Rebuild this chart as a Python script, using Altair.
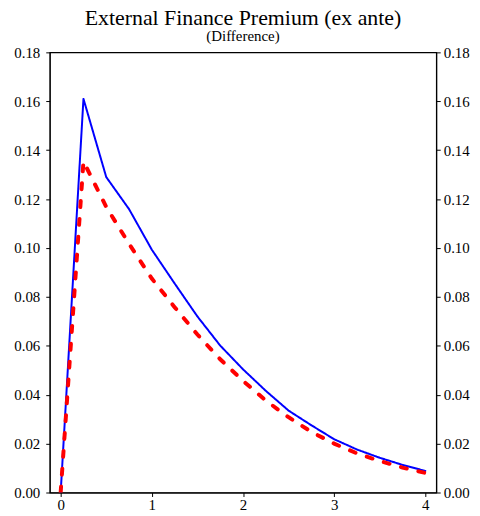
import altair as alt
import pandas as pd

quarters = [0, 0.25, 0.5, 0.75, 1.0, 1.25, 1.5, 1.75, 2.0, 2.25, 2.5, 2.75, 3.0, 3.25, 3.5, 3.75, 4.0]
blue_vals = [0.0, 0.161, 0.129, 0.1159, 0.0993, 0.0855, 0.072, 0.0601, 0.0504, 0.0416, 0.0335, 0.0275, 0.0218, 0.0176, 0.0142, 0.0113, 0.0088]
red_vals = [0.0, 0.1354, 0.1168, 0.1017, 0.0875, 0.0758, 0.0646, 0.0545, 0.0457, 0.0376, 0.0308, 0.0248, 0.0200, 0.0160, 0.0129, 0.0102, 0.0080]
series_names = ["A", "B"]

rows = []
for name, vals in zip(series_names, [blue_vals, red_vals]):
    for q, v in zip(quarters, vals):
        rows.append({"x": q, "y": v, "series": name})
df = pd.DataFrame(rows)

FONT = "Liberation Serif"
xscale = alt.Scale(domain=[-0.12, 4.12], nice=False, zero=False)
yscale = alt.Scale(domain=[0, 0.18], nice=False)
yticks = [round(i * 0.02, 2) for i in range(10)]

axis_style = dict(grid=False, tickSize=4, labelFont=FONT, labelFontSize=15,
                  labelColor="black", domainColor="black", tickColor="black")

xenc = alt.X("x:Q", scale=xscale, title=None,
             axis=alt.Axis(values=[0, 1, 2, 3, 4], format="d", labelPadding=1, **axis_style))

lines = alt.Chart(df).mark_line(clip=True, strokeCap="round").encode(
    x=xenc,
    y=alt.Y("y:Q", scale=yscale, title=None,
            axis=alt.Axis(orient="left", values=yticks, format=".2f", labelPadding=6, **axis_style)),
    color=alt.Color("series:N", scale=alt.Scale(domain=series_names, range=["#0000ff", "#ff0000"]), legend=None),
    strokeDash=alt.StrokeDash("series:N", scale=alt.Scale(domain=series_names, range=[[1, 0], [6, 12]]), legend=None),
    strokeWidth=alt.StrokeWidth("series:N", scale=alt.Scale(domain=series_names, range=[2, 4]), legend=None),
)

right = alt.Chart(df).mark_line(opacity=0).encode(
    x=xenc,
    y=alt.Y("y:Q", scale=yscale, title=None,
            axis=alt.Axis(orient="right", values=yticks, format=".2f", labelPadding=3, **axis_style)),
    detail="series:N",
)

chart = alt.layer(lines, right).resolve_scale(y="independent").properties(
    width=389, height=443,
    autosize=alt.AutoSizeParams(type="none"),
    padding={"left": 42, "top": 43, "right": 36, "bottom": 22},
    title=alt.TitleParams("External Finance Premium (ex ante)", subtitle="(Difference)",
                          anchor="middle", offset=0, subtitlePadding=0),
).configure_view(stroke="black", strokeWidth=1.2).configure_axis(
    labelFont=FONT, labelFontSize=15, labelColor="black"
).configure_title(
    font=FONT, fontSize=22, fontWeight="normal", color="black",
    subtitleFont=FONT, subtitleFontSize=15, subtitleColor="black"
)

chart.save("out.html", embed_options={"renderer": "svg", "actions": False})
